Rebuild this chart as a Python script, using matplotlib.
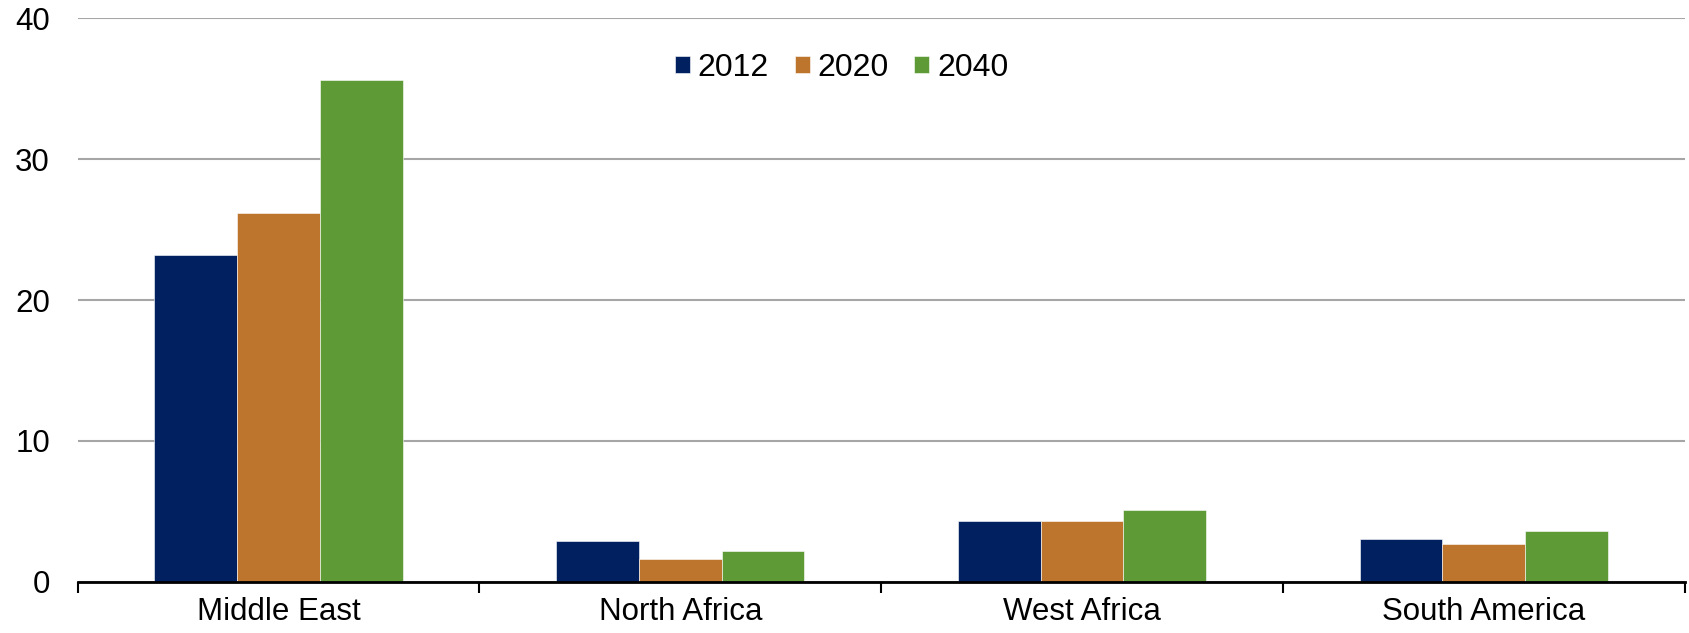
import numpy as np
from matplotlib import pyplot as plt

plt.rcParams['font.family'] = ['Liberation Sans', 'DejaVu Sans']

regions = ['Middle East', 'North Africa', 'West Africa', 'South America']
years = ['2012', '2020', '2040']
v2012 = [23.2, 2.9, 4.3, 3.0]
v2020 = [26.2, 1.6, 4.3, 2.7]
v2040 = [35.6, 2.2, 5.1, 3.6]
colors = ['#00205F', '#BD742C', '#5E9A35']

fig = plt.figure(figsize=(16.9, 6.33), dpi=100)
ax = fig.add_axes([0.046, 0.081, 0.9508, 0.890])

x = np.arange(len(regions))
w = 0.206
for i, (vals, c, lab) in enumerate(zip([v2012, v2020, v2040], colors, years)):
    ax.bar(x + (i - 1) * w, vals, w, color=c, label=lab, zorder=3,
           edgecolor='white', linewidth=0.4)

ax.set_xlim(-0.5, len(regions) - 0.5)
ax.set_ylim(0, 40)
ax.set_yticks([0, 10, 20, 30, 40])
ax.yaxis.grid(True, color='#A6A6A6', linewidth=1.5, zorder=0)
ax.set_axisbelow(True)

for s in ['top', 'right', 'left']:
    ax.spines[s].set_visible(False)
ax.spines['bottom'].set_linewidth(2)
ax.spines['bottom'].set_zorder(4)

ax.set_xticks(x)
ax.set_xticklabels(regions)
ax.set_xticks(np.arange(len(regions) + 1) - 0.5, minor=True)
ax.tick_params(axis='x', which='major', length=0, pad=11, labelsize=22.5)
ax.tick_params(axis='x', which='minor', length=8, width=1.5, direction='out')
ax.tick_params(axis='y', length=0, pad=20, labelsize=22.5)

ax.legend(loc='center', bbox_to_anchor=(0.4755, 0.912), ncol=3, frameon=False,
          fontsize=23, handlelength=0.47, handleheight=0.47, handletextpad=0.25,
          columnspacing=0.8)

fig.savefig('out.png', dpi=100)
